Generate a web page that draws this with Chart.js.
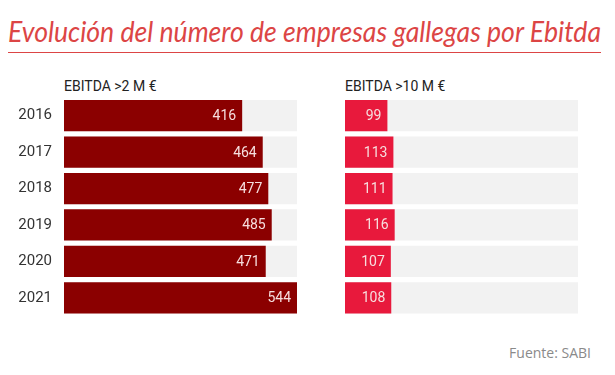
<!DOCTYPE html>
<html>
<head>
<meta charset="utf-8">
<script src="https://cdn.jsdelivr.net/npm/chart.js@4"></script>
<style>
  body { margin: 0; width: 615px; height: 375px; background: #fff; position: relative; overflow: hidden; font-family: Roboto, sans-serif; }
  #title { position: absolute; left: 8px; top: 13px; font-family: Lato, sans-serif; font-style: italic; font-size: 29px; color: #dc4545; white-space: nowrap; transform-origin: left top; }
  #rule { position: absolute; left: 8px; top: 52px; width: 593px; height: 1px; background: #dc4545; }
  .head { position: absolute; top: 78px; font-size: 14px; color: #222; }
  #source { position: absolute; right: 24px; top: 343px; font-family: "Open Sans", sans-serif; font-size: 14px; color: #8a8a8a; }
  canvas { position: absolute; }
</style>
</head>
<body>
<div id="title">Evolución del número de empresas gallegas por Ebitda</div>
<div id="rule"></div>
<div class="head" style="left:64px">EBITDA &gt;2 M €</div>
<div class="head" style="left:345px">EBITDA &gt;10 M €</div>
<div id="source">Fuente: SABI</div>
<canvas id="left" style="left:0;top:90px"></canvas>
<canvas id="right" style="left:310px;top:90px"></canvas>
<script>
const years = ['2016', '2017', '2018', '2019', '2020', '2021'];
const ebitda2 = [416, 464, 477, 485, 471, 544];
const ebitda10 = [99, 113, 111, 116, 107, 108];
const scaleMax = 544;

// fit the title to the width of the rule
const t = document.getElementById('title');
t.style.transform = 'scaleX(' + (593 / t.offsetWidth) + ')';

const valueLabels = {
  id: 'valueLabels',
  afterDatasetsDraw(chart) {
    const ctx = chart.ctx;
    const meta = chart.getDatasetMeta(1);
    ctx.save();
    ctx.font = '14px Roboto';
    ctx.fillStyle = '#f6dede';
    ctx.textAlign = 'right';
    ctx.textBaseline = 'middle';
    meta.data.forEach((bar, i) => {
      ctx.fillText(chart.data.datasets[1].data[i], bar.x - 6, bar.y + 1);
    });
    ctx.restore();
  }
};

function makeChart(id, values, color, showYears, pad) {
  const el = document.getElementById(id);
  el.width = showYears ? 310 : 305;
  el.height = 235;
  const bar = { grouped: false, barPercentage: 0.86, categoryPercentage: 1, borderWidth: 0 };
  return new Chart(el, {
    type: 'bar',
    data: {
      labels: years,
      datasets: [
        { ...bar, data: years.map(() => scaleMax), backgroundColor: '#f2f2f2', order: 2 },
        { ...bar, data: values, backgroundColor: color, order: 1 }
      ]
    },
    options: {
      indexAxis: 'y',
      responsive: false,
      animation: false,
      layout: { padding: pad },
      plugins: { legend: { display: false }, tooltip: { enabled: false } },
      scales: {
        x: { display: false, min: 0, max: scaleMax },
        y: {
          display: showYears,
          border: { display: false },
          grid: { display: false, drawTicks: false },
          ticks: { padding: 12, color: '#333', font: { family: 'Roboto', size: 15 } },
          afterFit(scale) {
            if (showYears) scale.width = 64;
            scale.paddingTop = 0;
            scale.paddingBottom = 0;
          }
        }
      }
    },
    plugins: [valueLabels]
  });
}

makeChart('left', ebitda2, '#8b0000', true, { top: 7.5, bottom: 9, right: 13, left: 0 });
makeChart('right', ebitda10, '#e8193c', false, { top: 7.5, bottom: 9, right: 37, left: 35 });
</script>
</body>
</html>
